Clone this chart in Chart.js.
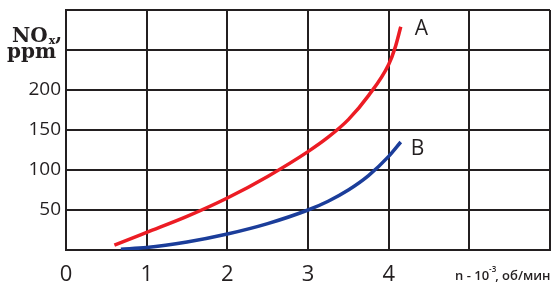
<!DOCTYPE html>
<html>
	<head>
		<meta charset="UTF-8">
		<title></title>
		<script src="https://cdn.jsdelivr.net/npm/chart.js@4/dist/chart.umd.min.js"></script>
		<style type="text/css">
			*{
				margin: 0;
				padding: 0;
			}
			body{
				background: white;
			}
		</style>
	</head>
	<body>
		<canvas id="showChart" width="551" height="285"></canvas>
		<script type="text/javascript">
			// n*10^-3 rev/min  vs  NOx ppm
			var xTicks=[0,1,2,3,4];
			var yTicks=[50,100,150,200];
			var aX=[0.6,1,1.5,2,2.5,3,3.25,3.5,3.75,4,4.08,4.15];
			var aY=[6,22,42,65,92,123,141,163,193,232,253,279];
			var bX=[0.68,1,1.5,2,2.5,3,3.25,3.5,3.75,4,4.15];
			var bY=[1,3,10,20,33,50,61,75,93,117,135];
			var seriesNames=["A","B"];
			var xTitle="n - 10";
			var xTitleSup="-3";
			var xTitleEnd=", об/мин";

			function pts(xs,ys){
				return xs.map((x,i)=>({x:x,y:ys[i]}));
			}

			var ink="#231f20";
			var tickFont="'Open Sans', 'Liberation Sans', sans-serif";

			var extras={
				id:"extras",
				afterDraw(chart){
					var ctx=chart.ctx;
					var xs=chart.scales.x, ys=chart.scales.y;
					ctx.save();
					ctx.fillStyle=ink;
					// y axis name
					ctx.textBaseline="alphabetic";
					ctx.textAlign="left";
					ctx.font="bold 20px 'DejaVu Serif', serif";
					ctx.fillText("NO",12,42);
					var w=ctx.measureText("NO").width;
					ctx.font="bold 11px 'DejaVu Serif', serif";
					ctx.fillText("x",13+w,44);
					var w2=ctx.measureText("x").width;
					ctx.font="bold 20px 'DejaVu Serif', serif";
					ctx.fillText(",",13+w+w2,40);
					ctx.fillText("ppm",7,58);
					// x axis name
					var tx=455, ty=280;
					ctx.font="600 13px 'Open Sans', sans-serif";
					ctx.fillText(xTitle,tx,ty);
					var a=ctx.measureText(xTitle).width;
					ctx.font="600 8px 'Open Sans', sans-serif";
					ctx.fillText(xTitleSup,tx+a,ty-8);
					var b=ctx.measureText(xTitleSup).width;
					ctx.font="600 13px 'Open Sans', sans-serif";
					ctx.fillText(xTitleEnd,tx+a+b-1,ty);
					// series labels
					ctx.font="21px 'Open Sans', sans-serif";
					ctx.textBaseline="middle";
					var lastA=aX.length-1, lastB=bX.length-1;
					ctx.fillText(seriesNames[0],xs.getPixelForValue(aX[lastA])+14,ys.getPixelForValue(aY[lastA])+2);
					ctx.fillText(seriesNames[1],xs.getPixelForValue(bX[lastB])+10,ys.getPixelForValue(bY[lastB])+7);
					ctx.restore();
				}
			};

			var ctx=document.getElementById("showChart").getContext("2d");
			var chart=new Chart(ctx,{
				type:"line",
				data:{
					datasets:[
						{label:seriesNames[0],data:pts(aX,aY),borderColor:"#ec1c24",borderWidth:3.5,pointRadius:0,cubicInterpolationMode:"monotone"},
						{label:seriesNames[1],data:pts(bX,bY),borderColor:"#1b3d9a",borderWidth:3.5,pointRadius:0,cubicInterpolationMode:"monotone"}
					]
				},
				options:{
					responsive:false,
					animation:false,
					layout:{padding:{top:10,right:1,left:0,bottom:0}},
					plugins:{legend:{display:false},tooltip:{enabled:false}},
					scales:{
						x:{
							type:"linear",min:0,max:6,
							afterFit(s){s.height=35;s.paddingLeft=0;s.paddingRight=0;},
							grid:{color:ink,lineWidth:2,drawTicks:false},
							border:{color:ink,width:2},
							ticks:{
								stepSize:1,padding:12,color:ink,
								font:{family:tickFont,size:22},
								callback:v=>xTicks.includes(v)?String(v):""
							}
						},
						y:{
							min:0,max:300,
							afterFit(s){s.width=66;s.paddingTop=0;s.paddingBottom=0;},
							grid:{color:ink,lineWidth:2,drawTicks:false},
							border:{color:ink,width:2},
							ticks:{
								stepSize:50,padding:5,color:ink,
								font:{family:tickFont,size:19},
								callback:v=>yTicks.includes(v)?String(v):""
							}
						}
					}
				},
				plugins:[extras]
			});
		</script>
	</body>
</html>
